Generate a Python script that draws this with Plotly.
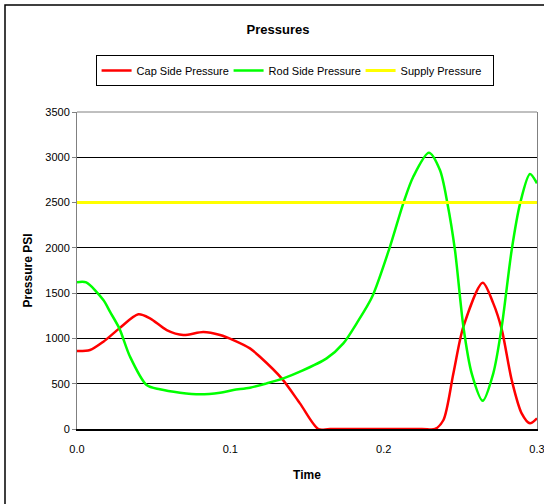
import plotly.graph_objects as go

# Cap side pressure (red)
cap_t = [0.0, 0.0085, 0.0172, 0.0276, 0.040, 0.0476, 0.0585, 0.0693, 0.0824, 0.0933,
         0.102, 0.1128, 0.1193, 0.1335, 0.1454, 0.1574, 0.165, 0.225, 0.2335, 0.239, 0.2455,
         0.252, 0.2646, 0.2715, 0.277, 0.2835, 0.290, 0.2954, 0.300]
cap_p = [861, 872, 964, 1111, 1266, 1222, 1093, 1038, 1071, 1038,
         982, 890, 798, 559, 283, 0, 0, 0, 0, 99, 615,
         1129, 1615, 1387, 1100, 541, 173, 63, 118]

# Rod side pressure (green)
rod_t = [0.0, 0.006, 0.0172, 0.0215, 0.0276, 0.0346, 0.0454, 0.054, 0.0672, 0.0802, 0.0933, 0.102,
         0.1128, 0.1237, 0.1346, 0.1454, 0.1628, 0.1737, 0.1824, 0.1925, 0.2041, 0.2128,
         0.2193, 0.2295, 0.2367, 0.2416, 0.2465, 0.252, 0.2574, 0.2646, 0.2715, 0.277,
         0.2835, 0.289, 0.2954, 0.300]
rod_p = [1620, 1618, 1424, 1295, 1111, 798, 486, 438, 401, 383, 401, 430,
         456, 504, 559, 633, 780, 946, 1167, 1460, 2012, 2491,
         2785, 3050, 2859, 2491, 1976, 1129, 615, 312, 615, 1129,
         1976, 2491, 2815, 2712]

# Supply pressure (yellow)
sup_t = [0.0, 0.3]
sup_p = [2500, 2500]

x_ticks = [0.0, 0.1, 0.2, 0.3]

fig = go.Figure()
fig.add_trace(go.Scatter(x=cap_t, y=cap_p, mode="lines", name="Cap Side Pressure",
                         line=dict(color="#FF0000", width=2.5, shape="spline", smoothing=0.8)))
fig.add_trace(go.Scatter(x=rod_t, y=rod_p, mode="lines", name="Rod Side Pressure",
                         line=dict(color="#00FF00", width=2.5, shape="spline", smoothing=0.8)))
fig.add_trace(go.Scatter(x=sup_t, y=sup_p, mode="lines", name="Supply Pressure",
                         line=dict(color="#FFFF00", width=3)))

font = "Liberation Sans, Arial, sans-serif"
fig.update_layout(
    width=544, height=504,
    margin=dict(l=77, r=7, t=112, b=75, autoexpand=False),
    paper_bgcolor="white", plot_bgcolor="white",
    font=dict(family=font, size=11, color="black"),
    title=dict(text="<b>Pressures</b>", x=(278 / 544), xanchor="center",
               y=1 - 29 / 504, yanchor="middle", font=dict(size=13, family=font)),
    showlegend=True,
    legend=dict(orientation="h", x=0.473, xanchor="center", y=1.18, yanchor="top",
                bordercolor="black", borderwidth=1, bgcolor="white",
                font=dict(size=11, family=font), entrywidth=87, entrywidthmode="pixels",
                tracegroupgap=0),
    xaxis=dict(range=[0, 0.30001], tickvals=x_ticks, tickformat=".1f", automargin=False,
               showgrid=False, zeroline=False, showline=True, linecolor="black",
               linewidth=2, ticks="", ticklabelstandoff=9, ticklabeloverflow="allow",
               title=dict(text="<b>Time</b>", font=dict(size=12), standoff=16)),
    yaxis=dict(range=[0, 3500], dtick=500, showgrid=True, gridcolor="black", gridwidth=1,
               zeroline=False, showline=True, linecolor="#808080", linewidth=1, mirror=True,
               ticks="outside", ticklen=4, tickcolor="#808080", automargin=False,
               title=dict(text="<b>Pressure PSI</b>", font=dict(size=12), standoff=10)),
    shapes=[
        dict(type="line", xref="paper", yref="paper", x0=0, x1=1, y0=1, y1=1,
             line=dict(color="#808080", width=1), layer="above"),
        dict(type="rect", xref="paper", yref="paper", x0=-72 / 460, x1=1.2,
             y0=-0.4, y1=424 / 317, line=dict(color="black", width=1.5), layer="below"),
    ],
)

fig.write_html("out.html")
